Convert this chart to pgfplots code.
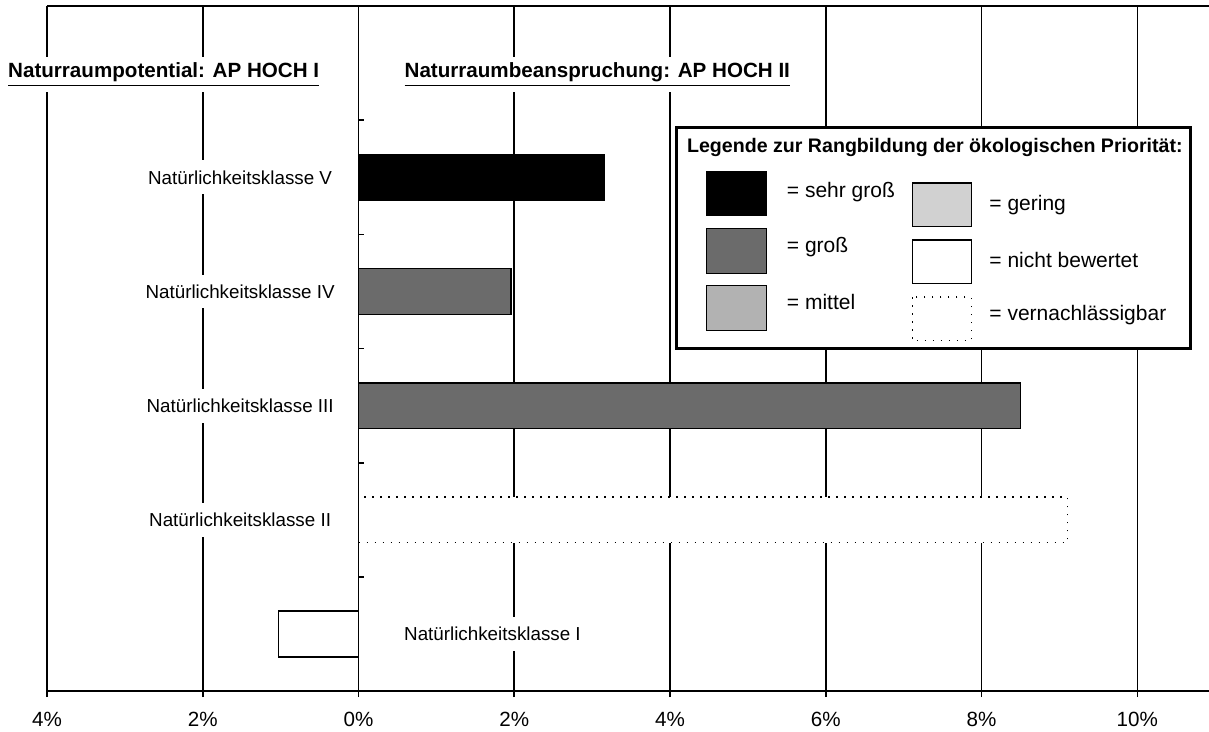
\documentclass[border=0pt]{standalone}
\usepackage{fontspec}
\setmainfont{Liberation Sans}
\usepackage{pgfplots}
\pgfplotsset{compat=1.18}
\begin{document}
\fontsize{10}{12}\selectfont
\begin{tikzpicture}
\begin{axis}[
  scale only axis, width=581pt, height=342.5pt,
  xmin=-4, xmax=10.92, ymin=0, ymax=6,
  axis x line=bottom, axis y line=none,
  x axis line style={-, line width=0.8pt},
  xtick={-4,-2,0,2,4,6,8,10},
  xticklabels={4\%,2\%,0\%,2\%,4\%,6\%,8\%,10\%},
  tick align=outside, major tick length=3pt,
  xtick style={line width=0.8pt, black},
  xmajorgrids, grid style={line width=0.8pt, black},
  ytick=\empty,
  clip=false,
  xticklabel style={font=\fontsize{10.3}{12}\selectfont, yshift=-4pt},
]
% sehr gross
\addplot[xbar, bar width=0.4, bar shift=0pt, fill=black, draw=black, line width=0.7pt] coordinates {(3.16,4.5)};
% gross
\addplot[xbar, bar width=0.4, bar shift=0pt, fill=black!58, draw=black, line width=0.7pt] coordinates {(1.96,3.5) (8.50,2.5)};
% vernachlaessigbar
\addplot[xbar, bar width=0.4, bar shift=0pt, fill=white, draw=black, line width=0.7pt, dash pattern=on 0.7pt off 3.3pt] coordinates {(9.10,1.5)};
% nicht bewertet
\addplot[xbar, bar width=0.4, bar shift=0pt, fill=white, draw=black, line width=0.7pt] coordinates {(-1.03,0.5)};

% y axis at 0 and frame
\draw[line width=0.8pt] (axis cs:0,0) -- (axis cs:0,6);
\pgfplotsinvokeforeach{1,...,5}{\draw[line width=0.8pt] (axis cs:0,#1) -- (axis cs:0.065,#1);}
\draw[line width=0.8pt] (axis cs:-4,6) -- (axis cs:10.92,6);

% titles
\node[anchor=west, fill=white, inner sep=3pt, font=\fontsize{10.3}{12}\selectfont\bfseries] at (axis cs:-4.58,5.40) {\underline{Naturraumpotential: AP HOCH I}};
\node[anchor=west, fill=white, inner sep=3pt, font=\fontsize{10.3}{12}\selectfont\bfseries] at (axis cs:0.51,5.40) {\underline{Naturraumbeanspruchung: AP HOCH II}};

% category labels
\node[fill=white, inner sep=5pt, font=\fontsize{9.4}{11}\selectfont] at (axis cs:-1.52,4.5) {Natürlichkeitsklasse V};
\node[fill=white, inner sep=5pt, font=\fontsize{9.4}{11}\selectfont] at (axis cs:-1.52,3.5) {Natürlichkeitsklasse IV};
\node[fill=white, inner sep=5pt, font=\fontsize{9.4}{11}\selectfont] at (axis cs:-1.52,2.5) {Natürlichkeitsklasse III};
\node[fill=white, inner sep=5pt, font=\fontsize{9.4}{11}\selectfont] at (axis cs:-1.52,1.5) {Natürlichkeitsklasse II};
\node[fill=white, inner sep=5pt, font=\fontsize{9.4}{11}\selectfont] at (axis cs:1.72,0.5) {Natürlichkeitsklasse I};

% legend box
\draw[line width=1.5pt, fill=white] (axis cs:4.08,4.94) rectangle (axis cs:10.68,3.00);
\node[font=\fontsize{9.8}{12}\selectfont\bfseries] at (axis cs:7.40,4.76) {Legende zur Rangbildung der ökologischen Priorität:};
\draw[line width=0.7pt, fill=black] (axis cs:4.47,4.546) rectangle (axis cs:5.24,4.17);
\draw[line width=0.7pt, fill=black!58] (axis cs:4.47,4.05) rectangle (axis cs:5.24,3.66);
\draw[line width=0.7pt, fill=black!30] (axis cs:4.47,3.55) rectangle (axis cs:5.24,3.16);
\draw[line width=0.7pt, fill=black!18] (axis cs:7.11,4.45) rectangle (axis cs:7.87,4.07);
\draw[line width=0.7pt, fill=white] (axis cs:7.11,3.95) rectangle (axis cs:7.87,3.57);
\draw[line width=0.7pt, dash pattern=on 0.7pt off 3.3pt] (axis cs:7.11,3.45) rectangle (axis cs:7.87,3.07);
\node[anchor=west, font=\fontsize{10.5}{12}\selectfont] at (axis cs:5.41,4.37) {= sehr groß};
\node[anchor=west, font=\fontsize{10.5}{12}\selectfont] at (axis cs:5.41,3.89) {= groß};
\node[anchor=west, font=\fontsize{10.5}{12}\selectfont] at (axis cs:5.41,3.41) {= mittel};
\node[anchor=west, font=\fontsize{10.5}{12}\selectfont] at (axis cs:8.01,4.26) {= gering};
\node[anchor=west, font=\fontsize{10.5}{12}\selectfont] at (axis cs:8.01,3.78) {= nicht bewertet};
\node[anchor=west, font=\fontsize{10.5}{12}\selectfont] at (axis cs:8.01,3.29) {= vernachlässigbar};

\coordinate (bbSW) at (axis cs:-4.603,-0.350);
\coordinate (bbNE) at (axis cs:10.92,6.053);
\end{axis}
\pgfresetboundingbox
\path (bbSW) rectangle (bbNE);
\end{tikzpicture}
\end{document}
